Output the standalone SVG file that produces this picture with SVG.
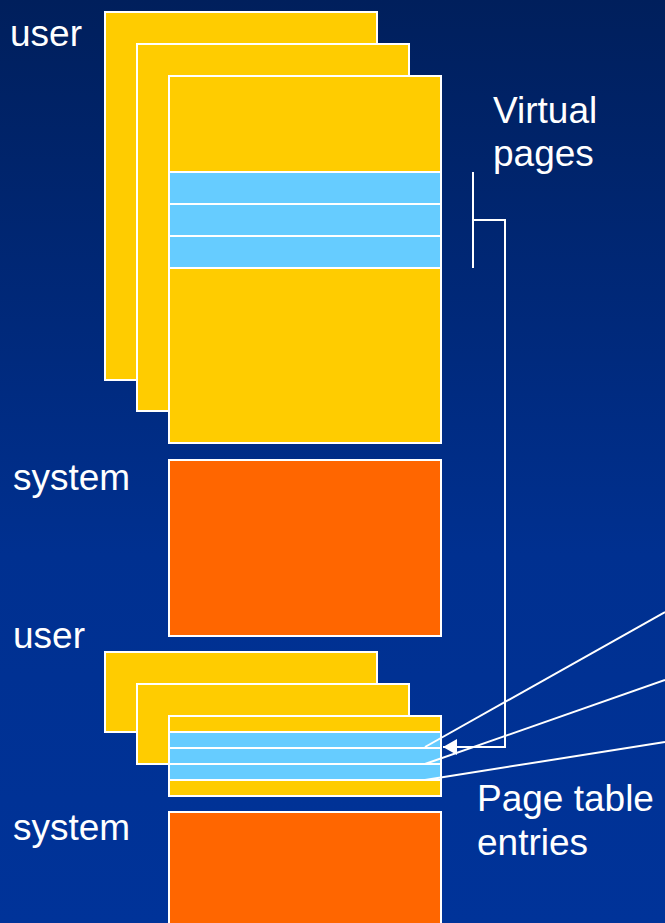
<svg xmlns="http://www.w3.org/2000/svg" width="665" height="923" viewBox="0 0 665 923">
  <defs>
    <linearGradient id="bg" x1="0" y1="0" x2="0" y2="1">
      <stop offset="0" stop-color="#001f5c"/>
      <stop offset="0.6" stop-color="#003090"/>
      <stop offset="1" stop-color="#003399"/>
    </linearGradient>
    <marker id="arrow" viewBox="0 0 14 16" refX="14" refY="8" markerWidth="14" markerHeight="16" markerUnits="userSpaceOnUse" orient="auto">
      <path d="M0,0 L14,8 L0,16 Z" fill="#ffffff"/>
    </marker>
    <style>
      .pg { stroke: #ffffff; stroke-width: 2; }
      .yel { fill: #ffcc00; }
      .blu { fill: #66ccff; }
      .org { fill: #ff6600; }
      .lbl { font-family: "Liberation Sans", Arial, sans-serif; font-size: 37px; fill: #ffffff; }
      .ln { stroke: #ffffff; stroke-width: 2; fill: none; }
    </style>
  </defs>
  <rect width="665" height="923" fill="url(#bg)"/>

  <g id="labels">
    <text class="lbl" x="10" y="46">user</text>
    <text class="lbl" x="493" y="123">Virtual</text>
    <text class="lbl" x="493" y="166">pages</text>
    <text class="lbl" x="13" y="490">system</text>
    <text class="lbl" x="13" y="648">user</text>
    <text class="lbl" x="477" y="811">Page table</text>
    <text class="lbl" x="477" y="855">entries</text>
    <text class="lbl" x="13" y="840">system</text>
  </g>

  <g id="virtual-space-top">
    <rect class="pg yel" x="105" y="12" width="272" height="368"/>
    <rect class="pg yel" x="137" y="44" width="272" height="367"/>
    <g id="virtual-space-front">
      <rect class="pg yel" x="169" y="76" width="272" height="367"/>
      <rect class="pg blu" x="169" y="172" width="272" height="32"/>
      <rect class="pg blu" x="169" y="204" width="272" height="32"/>
      <rect class="pg blu" x="169" y="236" width="272" height="32"/>
    </g>
  </g>
  <g id="system-top">
    <rect class="pg org" x="169" y="460" width="272" height="176"/>
  </g>

  <g id="page-table-bottom">
    <rect class="pg yel" x="105" y="652" width="272" height="80"/>
    <rect class="pg yel" x="137" y="684" width="272" height="80"/>
    <g id="page-table-front">
      <rect class="pg yel" x="169" y="716" width="272" height="80"/>
      <rect class="pg blu" x="169" y="732" width="272" height="16"/>
      <rect class="pg blu" x="169" y="748" width="272" height="16"/>
      <rect class="pg blu" x="169" y="764" width="272" height="16"/>
    </g>
  </g>
  <g id="system-bottom">
    <rect class="pg org" x="169" y="812" width="272" height="130"/>
  </g>

  <g id="connectors">
    <line class="ln" x1="473" y1="172" x2="473" y2="268"/>
    <path class="ln" d="M473,220 H505 V747 H443" marker-end="url(#arrow)"/>
    <line class="ln" x1="665" y1="612" x2="425" y2="747"/>
    <line class="ln" x1="665" y1="680" x2="425" y2="764"/>
    <line class="ln" x1="665" y1="742" x2="425" y2="780"/>
  </g>
</svg>
